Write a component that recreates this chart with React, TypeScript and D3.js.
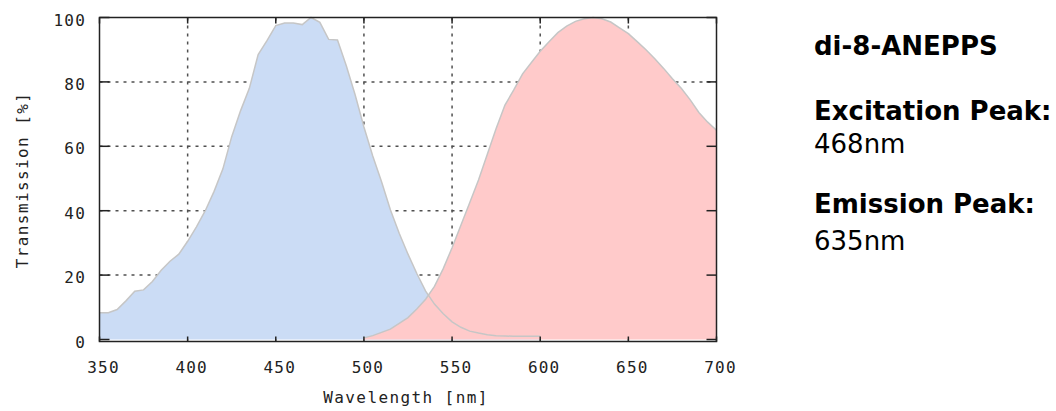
import React, { useEffect, useRef } from 'react';
import * as d3 from 'd3';

// excitation spectrum (blue), wavelength nm / transmission %
const exWave = [350, 355, 360, 365, 370, 375, 380, 385, 390, 395, 400, 405, 410, 415, 420, 425, 430, 435, 440, 445, 450, 455, 460, 465, 470, 475, 480, 485, 490, 495, 500, 505, 510, 515, 520, 525, 530, 535, 540, 545, 550, 555, 560, 565, 570, 575, 580, 585, 590, 595, 600];
const exValue = [8.3, 8.3, 9.3, 12, 15, 15.4, 18, 21.5, 24.3, 26.5, 30.5, 35, 40, 46, 53, 63, 71, 78, 88.5, 92.8, 97.5, 98.3, 98.3, 97.8, 100, 98.5, 93.2, 93, 85, 76, 66, 57, 49, 40.3, 33, 26.5, 20.5, 15, 11, 8, 5.5, 3.8, 2.6, 2, 1.5, 1.2, 1.1, 1, 1, 1, 1];

// emission spectrum (red)
const emWave = [500, 505, 510, 515, 520, 525, 530, 535, 540, 545, 550, 555, 560, 565, 570, 575, 580, 585, 590, 595, 600, 605, 610, 615, 620, 625, 630, 635, 640, 645, 650, 655, 660, 665, 670, 675, 680, 685, 690, 695, 700];
const emValue = [0.5, 1.2, 2.2, 3.2, 5, 6.8, 9.5, 12.5, 16.5, 22, 28.5, 35.5, 42.5, 49.5, 57.5, 65.5, 72.8, 77.5, 82.5, 86, 89.5, 92.5, 95.3, 97.3, 98.8, 99.6, 100, 99.6, 98.6, 96.8, 95, 92.5, 90, 87.2, 84.2, 81, 78, 74.5, 70.5, 67.5, 65];

const xTicks = [350, 400, 450, 500, 550, 600, 650, 700];
const yTicks = [0, 20, 40, 60, 80, 100];

const dyeName = 'di-8-ANEPPS';
const exPeak = '468nm';
const emPeak = '635nm';

export default function App() {
  const ref = useRef<SVGSVGElement>(null);

  useEffect(() => {
    const svg = d3.select(ref.current);
    svg.selectAll('*').remove();

    const left = 99.5, right = 716.5, top = 17.5, bottom = 341.5;
    const x = d3.scaleLinear().domain([350, 700]).range([left, right]);
    const y = d3.scaleLinear().domain([0, 100]).range([339.5, top]);

    const mono = "'DejaVu Sans Mono', monospace";

    // grid
    const grid = svg.append('g')
      .attr('stroke', '#505050')
      .attr('stroke-width', 1.5)
      .attr('stroke-dasharray', '3,5');
    grid.selectAll('line.v')
      .data(xTicks.slice(1, -1))
      .enter().append('line')
      .attr('x1', d => x(d)).attr('x2', d => x(d))
      .attr('y1', top).attr('y2', bottom);
    grid.selectAll('line.h')
      .data(yTicks.slice(1, -1))
      .enter().append('line')
      .attr('x1', left).attr('x2', right)
      .attr('y1', d => y(d)).attr('y2', d => y(d));

    const exData = exWave.map((w, i) => [w, exValue[i]] as [number, number]);
    const emData = emWave.map((w, i) => [w, emValue[i]] as [number, number]);

    const area = d3.area<[number, number]>()
      .x(d => x(d[0]))
      .y0(y(0))
      .y1(d => y(d[1]));
    const line = d3.line<[number, number]>()
      .x(d => x(d[0]))
      .y(d => y(d[1]));

    svg.append('path').attr('d', area(exData)).attr('fill', '#cbdcf5');
    svg.append('path').attr('d', area(emData)).attr('fill', '#ffcaca');
    svg.append('path').attr('d', line(exData))
      .attr('fill', 'none').attr('stroke', '#c6c6c6').attr('stroke-width', 1.5);
    svg.append('path').attr('d', line(emData))
      .attr('fill', 'none').attr('stroke', '#c6c6c6').attr('stroke-width', 1.5);

    // frame
    svg.append('rect')
      .attr('x', left).attr('y', top)
      .attr('width', right - left).attr('height', bottom - top)
      .attr('fill', 'none').attr('stroke', '#222').attr('stroke-width', 1.5);

    // ticks
    const ticks = svg.append('g').attr('stroke', '#222').attr('stroke-width', 1.5);
    yTicks.forEach(t => {
      ticks.append('line').attr('x1', left).attr('x2', left + 10).attr('y1', y(t)).attr('y2', y(t));
      ticks.append('line').attr('x1', right).attr('x2', right - 10).attr('y1', y(t)).attr('y2', y(t));
    });
    xTicks.forEach(t => {
      ticks.append('line').attr('x1', x(t)).attr('x2', x(t)).attr('y1', bottom).attr('y2', bottom - 5);
      ticks.append('line').attr('x1', x(t)).attr('x2', x(t)).attr('y1', top).attr('y2', top + 6);
    });

    // tick labels
    svg.append('g').selectAll('text')
      .data(yTicks).enter().append('text')
      .attr('x', 86).attr('y', d => y(d) + 8)
      .attr('text-anchor', 'end')
      .attr('font-family', mono).attr('font-size', 16)
      .attr('letter-spacing', 1.2)
      .attr('fill', '#222')
      .text(d => d);
    svg.append('g').selectAll('text')
      .data(xTicks).enter().append('text')
      .attr('x', d => x(d) + 4).attr('y', 373)
      .attr('text-anchor', 'middle')
      .attr('font-family', mono).attr('font-size', 16)
      .attr('letter-spacing', 1.2)
      .attr('fill', '#222')
      .text(d => d);

    // axis titles
    svg.append('text')
      .attr('x', 406).attr('y', 403)
      .attr('text-anchor', 'middle')
      .attr('font-family', mono).attr('font-size', 16)
      .attr('letter-spacing', 1.4)
      .attr('fill', '#222')
      .text('Wavelength [nm]');
    svg.append('text')
      .attr('transform', 'translate(28,180) rotate(-90)')
      .attr('text-anchor', 'middle')
      .attr('font-family', mono).attr('font-size', 16)
      .attr('letter-spacing', 1.4)
      .attr('fill', '#222')
      .text('Transmission [%]');

    // info panel
    const sans = "'DejaVu Sans', Verdana, sans-serif";
    const info = [
      { t: dyeName, y: 55, bold: true },
      { t: 'Excitation Peak:', y: 120, bold: true },
      { t: exPeak, y: 153, bold: false },
      { t: 'Emission Peak:', y: 213, bold: true },
      { t: emPeak, y: 250, bold: false },
    ];
    svg.append('g').selectAll('text')
      .data(info).enter().append('text')
      .attr('x', 814).attr('y', d => d.y)
      .attr('font-family', sans).attr('font-size', 26)
      .attr('font-weight', d => (d.bold ? 'bold' : 'normal'))
      .attr('fill', '#000')
      .text(d => d.t);
  }, []);

  return (
    <svg ref={ref} width={1056} height={411}
      style={{ position: 'absolute', left: 0, top: 0, background: '#fff' }} />
  );
}
